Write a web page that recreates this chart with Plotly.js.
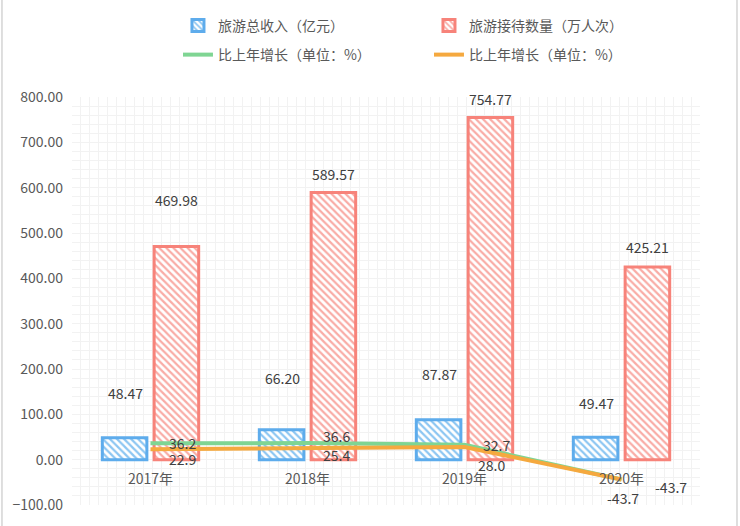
<!DOCTYPE html>
<html>
<head>
<meta charset="utf-8">
<script src="https://cdn.plot.ly/plotly-3.0.1.min.js"></script>
<style>
html, body { margin: 0; padding: 0; background: #fff; }
#chart { width: 740px; height: 526px; }
</style>
</head>
<body>
<div id="chart"></div>
<script>
// chart data
var years = ['2017年', '2018年', '2019年', '2020年'];
var income = [48.47, 66.20, 87.87, 49.47];          // 旅游总收入（亿元）
var visitors = [469.98, 589.57, 754.77, 425.21];    // 旅游接待数量（万人次）
var incomeGrowth = [36.2, 36.6, 32.7, -43.7];       // 比上年增长（单位：%）
var visitorGrowth = [22.9, 25.4, 28.0, -43.7];      // 比上年增长（单位：%）

var FONT = '"Noto Sans CJK SC", "Noto Sans", sans-serif';
var GRID = '#f2f2f2';

// pixel offsets of the data labels, as Excel placed them
var incomeLift = [45, 52, 46, 34];
var visitorsLift = [47, 18, 19, 20];
var incomeGrowthShift = [[32, 0], [29, 7], [32, 0], [49, -8]];
var visitorGrowthShift = [[32, -10], [29, -7], [27, -18], [1, -19]];

var traces = [
    {
        type: 'bar',
        name: '旅游总收入（亿元）',
        x: years,
        y: income,
        legend: 'legend',
        marker: {
            color: '#ffffff',
            line: {color: '#5eacec', width: 3},
            pattern: {shape: '\\', fgcolor: '#8cc6f2', bgcolor: '#ffffff', size: 5, solidity: 0.45}
        },
        hoverinfo: 'none'
    },
    {
        type: 'bar',
        name: '旅游接待数量（万人次）',
        x: years,
        y: visitors,
        legend: 'legend',
        marker: {
            color: '#ffffff',
            line: {color: '#f7837a', width: 3},
            pattern: {shape: '\\', fgcolor: '#f9aca6', bgcolor: '#ffffff', size: 5, solidity: 0.45}
        },
        hoverinfo: 'none'
    },
    {
        type: 'scatter',
        mode: 'lines',
        name: '比上年增长（单位：%）',
        x: years,
        y: incomeGrowth,
        legend: 'legend2',
        line: {color: '#7fd593', width: 4},
        hoverinfo: 'none'
    },
    {
        type: 'scatter',
        mode: 'lines',
        name: '比上年增长（单位：%）',
        x: years,
        y: visitorGrowth,
        legend: 'legend2',
        line: {color: '#f5a93f', width: 4},
        hoverinfo: 'none'
    },
    // carrier for the fine vertical grid
    {
        type: 'scatter',
        x: [],
        y: [],
        xaxis: 'x2',
        showlegend: false,
        hoverinfo: 'none'
    }
];

var annotations = [];
var labelFont = {family: FONT, size: 14, color: '#404040'};
for (var i = 0; i < years.length; i++) {
    annotations.push({
        x: years[i], y: income[i], text: income[i].toFixed(2),
        showarrow: false, yanchor: 'middle', xshift: -25, yshift: incomeLift[i], font: labelFont
    });
    annotations.push({
        x: years[i], y: visitors[i], text: visitors[i].toFixed(2),
        showarrow: false, yanchor: 'middle', xshift: 26, yshift: visitorsLift[i], font: labelFont
    });
    annotations.push({
        x: years[i], y: incomeGrowth[i], text: incomeGrowth[i].toFixed(1),
        showarrow: false, xshift: incomeGrowthShift[i][0], yshift: incomeGrowthShift[i][1], font: labelFont
    });
    annotations.push({
        x: years[i], y: visitorGrowth[i], text: visitorGrowth[i].toFixed(1),
        showarrow: false, xshift: visitorGrowthShift[i][0], yshift: visitorGrowthShift[i][1], font: labelFont
    });
}

var yMin = -100, yMax = 800;

var legendBase = {
    orientation: 'h',
    xref: 'container', yref: 'container',
    x: 0.2405, xanchor: 'left', yanchor: 'middle',
    entrywidth: 206,
    font: {family: FONT, size: 14, color: '#595959'},
    bgcolor: 'rgba(0,0,0,0)'
};

var layout = {
    width: 740,
    height: 526,
    margin: {l: 72, r: 40, t: 97, b: 21},
    paper_bgcolor: '#ffffff',
    plot_bgcolor: '#ffffff',
    font: {family: FONT, size: 14, color: '#595959'},
    barmode: 'group',
    bargap: 0.34,
    bargroupgap: 0.14,
    showlegend: true,
    legend: Object.assign({}, legendBase, {y: 0.9506}),
    legend2: Object.assign({}, legendBase, {y: 0.8954}),
    xaxis: {
        type: 'category',
        anchor: 'free',
        position: (0 - yMin) / (yMax - yMin),
        showgrid: false,
        zeroline: false,
        showline: false,
        ticks: '',
        ticklabelstandoff: 9,
        tickfont: {family: FONT, size: 14, color: '#595959'},
        fixedrange: true
    },
    xaxis2: {
        overlaying: 'x',
        range: [0, 70],
        dtick: 1,
        showgrid: true,
        gridcolor: GRID,
        gridwidth: 1,
        showticklabels: false,
        zeroline: false,
        ticks: ''
    },
    yaxis: {
        range: [yMin, yMax],
        dtick: 100,
        tickformat: '.2f',
        showgrid: true,
        gridcolor: GRID,
        zeroline: false,
        showline: false,
        ticks: '',
        ticklabelstandoff: 8,
        minor: {dtick: 20, showgrid: true, gridcolor: GRID, gridwidth: 1},
        tickfont: {family: FONT, size: 14, color: '#595959'},
        fixedrange: true
    },
    annotations: annotations,
    shapes: [
        // outer chart frame, left and right edges
        {type: 'line', xref: 'paper', yref: 'paper', x0: -0.1115, x1: -0.1115, y0: -0.06, y1: 1.25,
         line: {color: '#d4d4d4', width: 1.5}},
        {type: 'line', xref: 'paper', yref: 'paper', x0: 1.0589, x1: 1.0589, y0: -0.06, y1: 1.25,
         line: {color: '#d4d4d4', width: 1.5}}
    ]
};

Plotly.newPlot('chart', traces, layout, {staticPlot: true});
</script>
</body>
</html>
